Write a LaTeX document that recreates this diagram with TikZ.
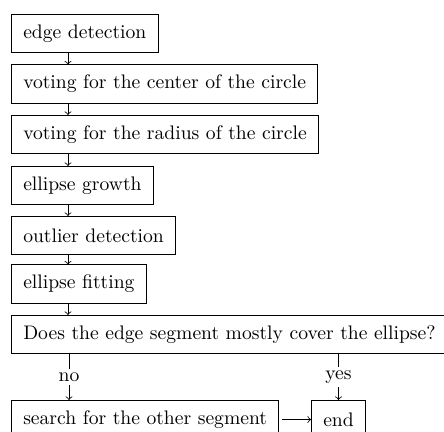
\documentclass[tikz,border=0pt]{standalone}
\begin{document}
\begin{tikzpicture}[x=0.51pt,y=-0.51pt,
  box/.style={draw, anchor=north west, inner xsep=6pt, minimum height=19.4pt, line width=0.5pt},
  conn/.style={->, line width=0.4pt},
  lbl/.style={fill=white, inner sep=2pt}]
\clip (0,0) rectangle (444,432);
\coordinate (ax) at (68,0);
\coordinate (nx) at (69,0);
\node[box] (b1) at (11,14) {edge detection};
\node[box] (b2) at (11,64.5) {voting for the center of the circle};
\node[box] (b3) at (11,115) {voting for the radius of the circle};
\node[box] (b4) at (11,166) {ellipse growth};
\node[box] (b5) at (11,216) {outlier detection};
\node[box] (b6) at (11,264.5) {ellipse fitting};
\node[box] (b7) at (11,315) {Does the edge segment mostly cover the ellipse?};
\node[box] (s) at (11,400) {search for the other segment};
\node[box] (e) at (311,400) {end};
\draw[conn] (b1.south -| ax) -- (b2.north -| ax);
\draw[conn] (b2.south -| ax) -- (b3.north -| ax);
\draw[conn] (b3.south -| ax) -- (b4.north -| ax);
\draw[conn] (b4.south -| ax) -- (b5.north -| ax);
\draw[conn] (b5.south -| ax) -- (b6.north -| ax);
\draw[conn] (b6.south -| ax) -- (b7.north -| ax);
\draw[conn] (b7.south -| nx) -- node[lbl]{no} (s.north -| nx);
\draw[conn] (b7.south -| e.north) -- node[lbl]{yes} (e.north);
\draw[conn, shorten <=1.5pt] (s.east) -- (e.west);
\end{tikzpicture}
\end{document}
